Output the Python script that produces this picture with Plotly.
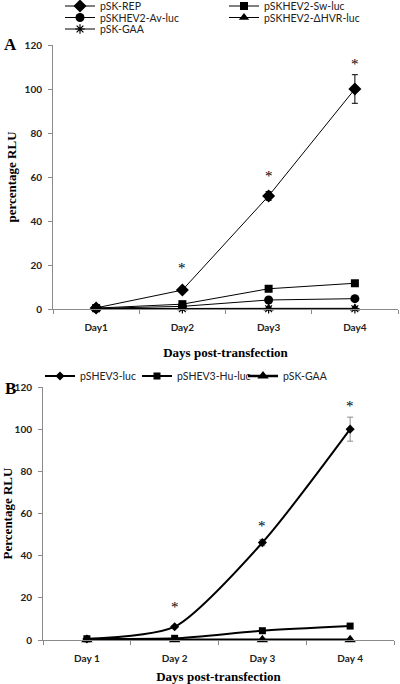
import plotly.graph_objects as go

# ---------------- data ----------------
days_a = ["Day1", "Day2", "Day3", "Day4"]
rep = [0.5, 8.6, 51.4, 100.0]
rep_err = [0.2, 0.6, 2.0, 6.5]
sw = [0.4, 2.2, 9.2, 11.7]
av = [0.3, 1.2, 4.1, 4.7]
dhvr = [0.2, 0.4, 0.3, 0.3]
gaa_a = [0.1, 0.1, 0.1, 0.1]
stars_a = [None, 18.5, 60.5, 111.5]

days_b = ["Day 1", "Day 2", "Day 3", "Day 4"]
hev3 = [0.5, 6.3, 46.2, 100.0]
hev3_err = [0.2, 0.4, 1.5, 5.7]
hu = [0.6, 0.8, 4.4, 6.6]
gaa_b = [0.1, 0.1, 0.1, 0.1]
stars_b = [None, 15.5, 54.0, 111.0]

y_ticks = [0, 20, 40, 60, 80, 100, 120]

xa = list(range(len(days_a)))
xb = list(range(len(days_b)))

SANS = "Lato"
SERIF = "Liberation Serif"

fig = go.Figure()

def line_trace(x, y, name, symbol, size, lw, xaxis, yaxis, legend,
               err=None, errcolor="black", legendwidth=None, shape="linear"):
    kw = {}
    if err is not None:
        kw["error_y"] = dict(type="data", array=err, color=errcolor,
                             thickness=1, width=3)
    if legendwidth is not None:
        kw["legendwidth"] = legendwidth
    mk = dict(symbol=symbol, size=size, color="black",
              line=dict(color="black", width=1.2 if "open" in symbol else 0))
    ln = dict(color="black", width=lw, shape=shape)
    if shape == "spline":
        ln["smoothing"] = 0.7
    fig.add_trace(go.Scatter(
        x=x, y=y, name=name, mode="lines+markers",
        line=ln, marker=mk, xaxis=xaxis, yaxis=yaxis, legend=legend,
        cliponaxis=False, **kw))

# Panel A
line_trace(xa, rep, "pSK-REP", "diamond", 10, 1, "x", "y", "legend",
           err=rep_err, legendwidth=119)
line_trace(xa, sw, "pSKHEV2-Sw-luc", "square", 8, 1, "x", "y", "legend")
line_trace(xa, av, "pSKHEV2-Av-luc", "circle", 9, 1, "x", "y", "legend2",
           legendwidth=119)
line_trace(xa, dhvr, "pSKHEV2-ΔHVR-luc", "triangle-up", 9, 1, "x", "y", "legend2")
line_trace(xa, gaa_a, "pSK-GAA", "asterisk-open", 8, 1, "x", "y", "legend3")

# Panel B
line_trace(xb, hev3, "pSHEV3-luc", "diamond", 7, 2, "x2", "y2", "legend4",
           err=hev3_err, errcolor="#8c8c8c", shape="spline", legendwidth=52)
line_trace(xb, hu, "pSHEV3-Hu-luc", "square", 7, 2, "x2", "y2", "legend4",
           shape="spline", legendwidth=61)
line_trace(xb, gaa_b, "pSK-GAA", "triangle-up", 10, 2.5, "x2", "y2", "legend4")

AX = "#8a8a8a"
tickfont = dict(family=SANS, size=10, color="#222", weight="bold")
titlefont = dict(family=SERIF, size=13, color="black", weight="bold")
starfont = dict(family=SERIF, size=15, color="black")

def xaxis_cfg(domain, anchor, labels, x, standoff):
    return dict(
        domain=domain, anchor=anchor, range=[-0.5, len(x) - 0.5],
        tickmode="array", tickvals=x, ticktext=labels, ticks="",
        showline=True, linecolor=AX, linewidth=1, showgrid=False, zeroline=False,
        minor=dict(tickmode="array", tickvals=[i - 0.5 for i in range(len(x) + 1)],
                   ticks="outside", ticklen=4, tickcolor=AX, showgrid=False),
        tickfont=tickfont, ticklabelstandoff=9,
        title=dict(text="Days post-transfection", font=titlefont, standoff=standoff),
    )

def yaxis_cfg(domain, anchor, title):
    return dict(
        domain=domain, anchor=anchor, range=[0, 120],
        tickmode="array", tickvals=y_ticks, ticks="outside", ticklen=4,
        tickcolor=AX, showline=True, linecolor=AX, linewidth=1,
        showgrid=False, zeroline=False, tickfont=tickfont, ticklabelstandoff=4,
        title=dict(text=title, font=titlefont, standoff=5),
    )

legfont = dict(family=SANS, size=10.5, color="#222")
def leg(x, y):
    return dict(orientation="h", x=x, y=y, xanchor="left", yanchor="middle",
                font=legfont, bgcolor="rgba(0,0,0,0)", borderwidth=0,
                itemwidth=30, tracegroupgap=0)

H = 684.0
W = 400.0

annotations = []
for xs, ys, xr, yr in [(xa, stars_a, "x", "y"), (xb, stars_b, "x2", "y2")]:
    for xv, sv in zip(xs, ys):
        if sv is not None:
            annotations.append(dict(text="*", x=xv, y=sv, xref=xr, yref=yr,
                                    showarrow=False, font=starfont))
panel_font = dict(family=SERIF, size=17, color="black", weight="bold")
annotations += [
    dict(text="A", x=10 / W, y=1 - 45 / H, xref="paper", yref="paper",
         xanchor="center", yanchor="middle", showarrow=False, font=panel_font),
    dict(text="B", x=10 / W, y=1 - 388 / H, xref="paper", yref="paper",
         xanchor="center", yanchor="middle", showarrow=False, font=panel_font),
]

fig.update_layout(
    width=400, height=684, margin=dict(l=0, r=0, t=0, b=0, autoexpand=False),
    paper_bgcolor="white", plot_bgcolor="white",
    xaxis=xaxis_cfg([53 / W, 398 / W], "y", days_a, xa, 15),
    yaxis=yaxis_cfg([1 - 309 / H, 1 - 45 / H], "x", "percentage RLU"),
    xaxis2=xaxis_cfg([43 / W, 394 / W], "y2", days_b, xb, 10),
    yaxis2=yaxis_cfg([1 - 640 / H, 1 - 387 / H], "x2", "Percentage RLU"),
    legend=leg(60 / W, 1 - 6 / H),
    legend2=leg(60 / W, 1 - 17.5 / H),
    legend3=leg(60 / W, 1 - 29 / H),
    legend4=leg(40 / W, 1 - 376 / H),
    annotations=annotations,
    showlegend=True,
)

fig.write_html("out.html", config={"displayModeBar": False},
               post_script="document.body.style.margin='0';document.body.style.overflow='hidden';")
